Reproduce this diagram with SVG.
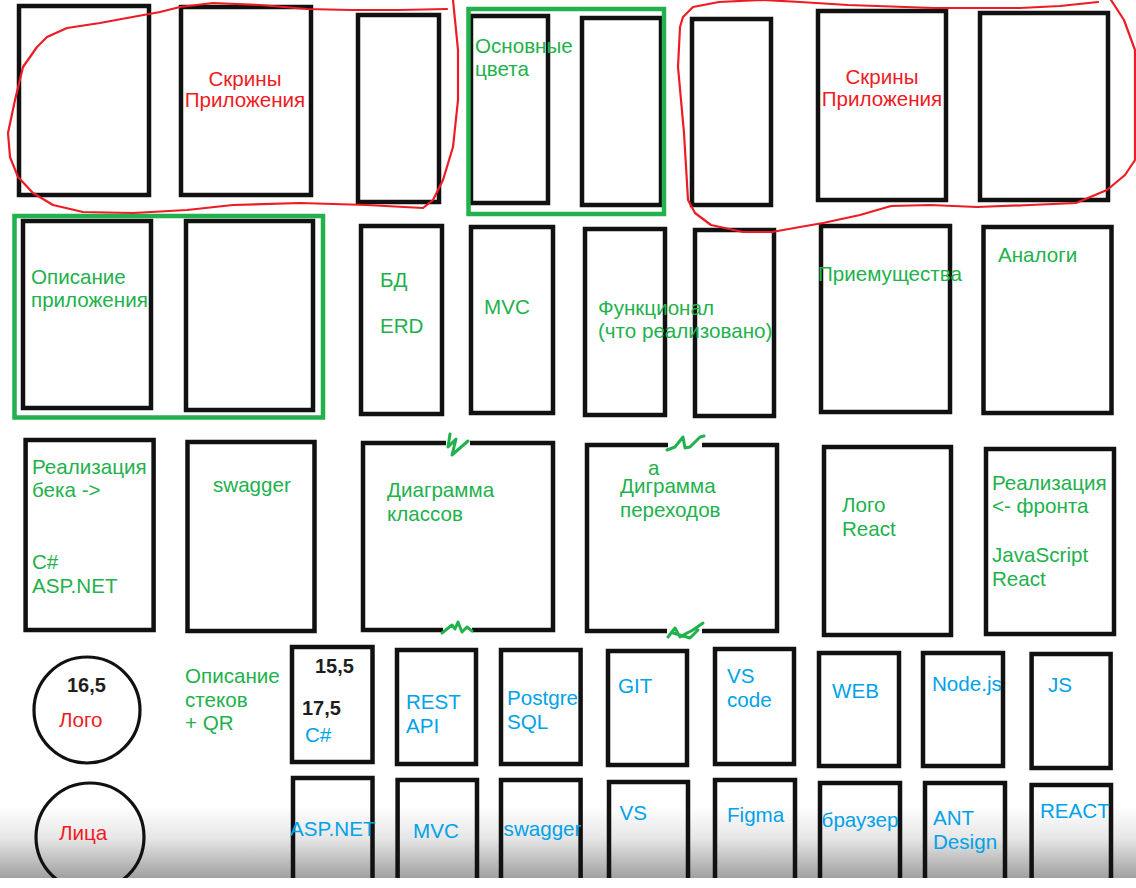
<svg xmlns="http://www.w3.org/2000/svg" width="1136" height="888" viewBox="0 0 1136 888">
<style>
text{font-family:"Liberation Sans",Arial,sans-serif;font-size:20.6px}
.box{fill:none;stroke:#111;stroke-width:4.5;stroke-linejoin:miter}
.circ{fill:none;stroke:#111;stroke-width:3.2}
.g{fill:#22b14c}.r{fill:#ed1c24}.b{fill:#00a2e8}
.k{fill:#1e1e1e;font-weight:bold;font-size:20px}
.loop{fill:none;stroke:#ed1c24;stroke-width:2.2;stroke-linejoin:round;stroke-linecap:round}
.grp{fill:none;stroke:#22b14c;stroke-width:4.5}
.sq{fill:none;stroke:#22b14c;stroke-width:3;stroke-linecap:round;stroke-linejoin:round}
.mid{text-anchor:middle}
</style>
<defs>
<linearGradient id="shade" x1="0" y1="0" x2="0" y2="1">
<stop offset="0" stop-color="#ffffff"/>
<stop offset="0.45" stop-color="#e6e6e6"/>
<stop offset="1" stop-color="#a0a0a0"/>
</linearGradient>
</defs>
<rect width="1136" height="888" fill="#fff"/>
<rect x="0" y="806" width="1136" height="72" fill="url(#shade)"/>

<!-- Row 1 -->
<g id="n-top1"><rect class="box" x="19" y="6" width="130" height="189"/></g>
<g id="n-top2"><rect class="box" x="181" y="7" width="130" height="188"/>
<text class="r mid" x="245" y="86">Скрины</text><text class="r mid" x="245" y="107">Приложения</text></g>
<g id="n-top3"><rect class="box" x="358" y="15" width="81" height="187"/></g>
<g id="n-colors1"><rect class="box" x="471" y="16" width="77" height="187"/>
<text class="g" x="475" y="53">Основные</text><text class="g" x="475" y="76">цвета</text></g>
<g id="n-colors2"><rect class="box" x="582" y="18" width="79" height="187"/></g>
<g id="n-top6"><rect class="box" x="692" y="19" width="79" height="186"/></g>
<g id="n-top7"><rect class="box" x="818" y="11" width="128" height="189"/>
<text class="r mid" x="882" y="84">Скрины</text><text class="r mid" x="882" y="106">Приложения</text></g>
<g id="n-top8"><rect class="box" x="980" y="13" width="128" height="187"/></g>

<!-- Row 2 -->
<g id="n-desc1"><rect class="box" x="23" y="221" width="128" height="187"/>
<text class="g" x="31" y="284">Описание</text><text class="g" x="31" y="307">приложения</text></g>
<g id="n-desc2"><rect class="box" x="186" y="221" width="127" height="189"/></g>
<g id="n-db"><rect class="box" x="361" y="226" width="81" height="188"/>
<text class="g" x="380" y="287">БД</text><text class="g" x="380" y="333">ERD</text></g>
<g id="n-mvc"><rect class="box" x="471" y="227" width="82" height="186"/>
<text class="g" x="484" y="314">MVC</text></g>
<g id="n-func1"><rect class="box" x="585" y="229" width="80" height="186"/></g>
<g id="n-func2"><rect class="box" x="695" y="230" width="79" height="186"/></g>
<g id="n-adv"><rect class="box" x="821" y="226" width="129" height="186"/>
<text class="g" x="818" y="281">Приемущества</text></g>
<g id="n-analog"><rect class="box" x="983.5" y="227" width="128" height="186"/>
<text class="g" x="998" y="262">Аналоги</text></g>
<text class="g" x="598" y="315">Функционал</text>
<text class="g" x="598" y="338">(что реализовано)</text>

<!-- Row 3 -->
<g id="n-back"><rect class="box" x="25.6" y="440" width="128" height="190"/>
<text class="g" x="32" y="474">Реализация</text><text class="g" x="32" y="497">бека -&gt;</text>
<text class="g" x="32" y="569">C#</text><text class="g" x="32" y="593">ASP.NET</text></g>
<g id="n-swagger"><rect class="box" x="187.5" y="442" width="127" height="189"/>
<text class="g" x="213" y="492">swagger</text></g>
<g id="n-classes"><path class="box" d="M446,443 H363 V630 H443 M472,630 H553 V443 H470"/>
<text class="g" x="387" y="497">Диаграмма</text><text class="g" x="387" y="521">классов</text></g>
<g id="n-trans"><path class="box" d="M668,445 H587 V631 H667 M702,631 H777 V445 H702"/>
<text class="g" x="648" y="475">а</text>
<text class="g" x="620" y="493">Диграмма</text><text class="g" x="620" y="517">переходов</text></g>
<g id="n-logoreact"><rect class="box" x="824" y="447" width="127" height="188"/>
<text class="g" x="842" y="512">Лого</text><text class="g" x="842" y="536">React</text></g>
<g id="n-front"><rect class="box" x="986" y="449" width="128" height="185"/>
<text class="g" x="992" y="490">Реализация</text><text class="g" x="992" y="513">&lt;- фронта</text>
<text class="g" x="992" y="562">JavaScript</text><text class="g" x="992" y="586">React</text></g>

<!-- Circles and stack description -->
<g id="n-logo"><circle class="circ" cx="87" cy="710" r="53"/>
<text class="k" x="67" y="692">16,5</text><text class="r" x="59" y="727">Лого</text></g>
<g id="n-faces"><circle class="circ" cx="90" cy="837" r="54"/>
<text class="r" x="59" y="840">Лица</text></g>
<g id="n-stackdesc"><text class="g" x="185" y="683">Описание</text><text class="g" x="185" y="707">стеков</text><text class="g" x="185" y="730">+ QR</text></g>

<!-- Row 4 -->
<g id="n-cs"><rect class="box" x="292" y="647" width="80.5" height="115"/>
<text class="k" x="315" y="673">15,5</text><text class="k" x="302" y="715">17,5</text><text class="b" x="305" y="742">C#</text></g>
<g id="n-rest"><rect class="box" x="397" y="650" width="79" height="114"/>
<text class="b" x="406" y="709">REST</text><text class="b" x="406" y="733">API</text></g>
<g id="n-pg"><rect class="box" x="501" y="650" width="79.6" height="114"/>
<text class="b" x="507" y="705">Postgre</text><text class="b" x="507" y="729">SQL</text></g>
<g id="n-git"><rect class="box" x="608" y="651" width="79" height="114"/>
<text class="b" x="618" y="693">GIT</text></g>
<g id="n-vscode"><rect class="box" x="715" y="649" width="79" height="115"/>
<text class="b" x="727" y="683">VS</text><text class="b" x="727" y="707">code</text></g>
<g id="n-web"><rect class="box" x="819" y="653" width="80" height="113"/>
<text class="b" x="832" y="698">WEB</text></g>
<g id="n-node"><rect class="box" x="923" y="653" width="80" height="113"/>
<text class="b" x="932" y="691">Node.js</text></g>
<g id="n-js"><rect class="box" x="1031.6" y="654" width="79" height="114"/>
<text class="b" x="1048" y="692">JS</text></g>

<!-- Row 5 -->
<g id="n-asp"><path class="box" d="M293,880 V778 H372.5 V880"/>
<text class="b" x="290" y="836">ASP.NET</text></g>
<g id="n-mvc2"><path class="box" d="M397.6,880 V780 H477 V880"/>
<text class="b" x="413" y="838">MVC</text></g>
<g id="n-swagger2"><path class="box" d="M501,880 V780 H580.6 V880"/>
<text class="b" x="503.6" y="836">swagger</text></g>
<g id="n-vs"><path class="box" d="M609,880 V782 H688 V880"/>
<text class="b" x="619.5" y="820">VS</text></g>
<g id="n-figma"><path class="box" d="M715,880 V780 H795 V880"/>
<text class="b" x="727" y="822">Figma</text></g>
<g id="n-browser"><path class="box" d="M820,880 V783 H900 V880"/>
<text class="b" x="821.6" y="827">браузер</text></g>
<g id="n-ant"><path class="box" d="M925,880 V783 H1005 V880"/>
<text class="b" x="933" y="825">ANT</text><text class="b" x="933" y="849">Design</text></g>
<g id="n-react"><path class="box" d="M1031.6,880 V785 H1111 V880"/>
<text class="b" x="1040" y="818">REACT</text></g>

<!-- Annotations -->
<g id="connectors">
<rect class="grp" x="468.5" y="9" width="195.5" height="205"/>
<rect class="grp" x="14.5" y="216" width="308.5" height="201.5"/>
<path class="loop" d="M447,9 L400,10 L350,10 L307,9 L260,5 L213,3 L180,7 L160,12 L127,18 L100,23 L67,28 L47,37 L37,47 L23,67 L15,100 L8,133 L10,157 L18,177 L33,193 L53,205 L83,212 L133,213 L187,210 L233,205 L300,203 L367,205 L423,208 L433,200 L443,180 L453,147 L458,100 L458,50 L453,0"/>
<path class="loop" d="M1098,2 L1060,6 L1020,8 L934,8 L848,5 L800,2 L762,0 L719,2 L693,7 L683,17 L680,27 L678,67 L681,100 L684,133 L688,200 L695,213 L711,225 L743,232 L772,232 L800,227 L823,223 L860,215 L891,206 L930,205 L977,207 L1030,205 L1076,203 L1107,190 L1125,175 L1135,160 L1135,100 L1135,50 L1124,20 L1111,0"/>
<path class="sq" d="M450,434 L448,447 L456,439 L452,455 L468,441"/>
<path class="sq" d="M442,633 L452,625 L455,629 L458,622 L462,632 L467,627 L472,631"/>
<path class="sq" d="M667,450 L675,447 L683,437 L685,448 L690,447 L700,437 L704,436"/>
<path class="sq" d="M668,637 L675,628 L680,637 L687,633 L693,630 L703,623 M673,633 L690,638 L698,630"/>
</g>
<rect x="0" y="878" width="1136" height="10" fill="#fff"/>
</svg>
